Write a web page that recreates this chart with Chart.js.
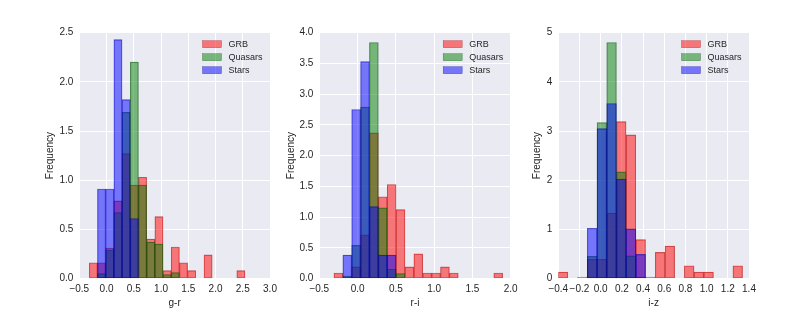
<!DOCTYPE html>
<html>
<head>
<meta charset="utf-8">
<script src="https://cdn.jsdelivr.net/npm/chart.js@4.4.1/dist/chart.umd.min.js"></script>
<style>
  body { margin: 0; background: #fff; }
  #wrap { position: relative; width: 789px; height: 329px; }
  canvas { position: absolute; left: 0; top: 0; }
</style>
</head>
<body>
<div id="wrap">
  <canvas id="grChart" width="789" height="329"></canvas>
  <canvas id="riChart" width="789" height="329"></canvas>
  <canvas id="izChart" width="789" height="329"></canvas>
</div>
<script>
'use strict'

const seriesNames = ['GRB', 'Quasars', 'Stars'];

// g-r panel, 19 bins
const grBinStart = -0.317;
const grBinWidth = 0.1504;
const grGRB     = [0.16, 0.16, 0.31, 0.79, 1.27, 0.95, 1.03, 0.40, 0.63, 0.08, 0.32, 0.16, 0.08, 0, 0.24, 0, 0, 0, 0.08];
const grQuasars = [0, 0.05, 0.29, 0.67, 1.69, 2.20, 0.95, 0.37, 0.35, 0.04, 0.06, 0, 0, 0, 0, 0, 0, 0, 0];
const grStars   = [0, 0.91, 0.91, 2.43, 1.82, 0.61, 0, 0, 0, 0, 0, 0, 0, 0, 0, 0, 0, 0, 0];
const grXTicks  = [-0.5, 0, 0.5, 1, 1.5, 2, 2.5, 3];
const grYTicks  = [0, 0.5, 1, 1.5, 2, 2.5];

// r-i panel, 19 bins
const riBinStart = -0.309;
const riBinWidth = 0.116;
const riGRB     = [0.09, 0, 0.19, 0.71, 2.37, 1.33, 1.53, 1.12, 0.19, 0.40, 0.09, 0.09, 0.19, 0.09, 0, 0, 0, 0, 0.09];
const riQuasars = [0, 0.04, 0.54, 2.79, 3.84, 1.15, 0.15, 0.08, 0, 0, 0, 0, 0, 0, 0, 0, 0, 0, 0];
const riStars   = [0, 0.38, 2.75, 3.53, 1.17, 0.38, 0.38, 0, 0, 0, 0, 0, 0, 0, 0, 0, 0, 0, 0];
const riXTicks  = [-0.5, 0, 0.5, 1, 1.5, 2];
const riYTicks  = [0, 0.5, 1, 1.5, 2, 2.5, 3, 3.5, 4];

// i-z panel, 19 bins
const izBinStart = -0.401;
const izBinWidth = 0.0916;
const izGRB     = [0.13, 0, 0, 0.39, 0.39, 1.33, 3.19, 2.92, 0.79, 0, 0.53, 0.66, 0, 0.26, 0.13, 0.13, 0, 0, 0.26];
const izQuasars = [0, 0, 0.03, 0.45, 3.17, 4.80, 2.17, 0.46, 0.03, 0.03, 0, 0, 0, 0, 0, 0, 0, 0, 0];
const izStars   = [0, 0, 0, 1.02, 3.05, 3.56, 2.02, 1.01, 0.49, 0, 0, 0, 0, 0, 0, 0, 0, 0, 0];
const izXTicks  = [-0.4, -0.2, 0, 0.2, 0.4, 0.6, 0.8, 1.0, 1.2, 1.4];
const izYTicks  = [0, 1, 2, 3, 4, 5];

const fillColors = ['rgba(255,0,0,0.5)', 'rgba(0,128,0,0.5)', 'rgba(0,0,255,0.5)'];
const edgeColors = ['rgba(150,0,0,0.55)', 'rgba(0,70,0,0.55)', 'rgba(0,0,150,0.55)'];
const textColor = '#262626';
const fontFamily = '"Liberation Sans", Arial, Helvetica, sans-serif';

const panelBackground = {
  id: 'panelBackground',
  beforeDraw(chart) {
    const {ctx, chartArea: a} = chart;
    ctx.save();
    ctx.fillStyle = '#EAEAF2';
    ctx.fillRect(a.left, a.top, a.right - a.left, a.bottom - a.top);
    ctx.restore();
  }
};

// legend box in the upper right corner of the plot
const boxLegend = {
  id: 'boxLegend',
  afterDatasetsDraw(chart) {
    const {ctx, chartArea: a} = chart;
    ctx.save();
    ctx.font = '9px ' + fontFamily;
    ctx.textBaseline = 'middle';
    ctx.textAlign = 'left';
    chart.data.datasets.forEach((ds, i) => {
      const cy = a.top + 11.5 + i * 13;
      ctx.fillStyle = ds.backgroundColor;
      ctx.fillRect(a.right - 67.5, cy - 3.5, 19, 7);
      ctx.strokeStyle = ds.borderColor;
      ctx.lineWidth = 0.5;
      ctx.strokeRect(a.right - 67.5, cy - 3.5, 19, 7);
      ctx.fillStyle = textColor;
      ctx.fillText(ds.label, a.right - 41.5, cy + 0.5);
    });
    ctx.restore();
  }
};

const fmt = (v, dec) => v.toFixed(dec).replace('-', '\u2212');

const makePanel = (canvasId, binStart, binWidth, series, xTicks, yTicks, xLabel, yDec, box) => {
  const datasets = series.map((vals, s) => ({
    label: seriesNames[s],
    data: vals.map((v, i) => ({x: binStart + binWidth * (i + 0.5), y: v})),
    backgroundColor: fillColors[s],
    borderColor: edgeColors[s],
    borderWidth: 0.5,
    borderSkipped: false,
    order: 3 - s,
    grouped: false,
    categoryPercentage: 1,
    barPercentage: 1
  }));

  return new Chart(document.getElementById(canvasId), {
    type: 'bar',
    data: {datasets: datasets},
    plugins: [panelBackground, boxLegend],
    options: {
      responsive: false,
      animation: false,
      events: [],
      layout: {padding: {left: box.axisLeft, right: 789 - box.right, top: box.top, bottom: 0}},
      plugins: {legend: {display: false}, tooltip: {enabled: false}},
      scales: {
        x: {
          type: 'linear',
          min: xTicks[0],
          max: xTicks[xTicks.length - 1],
          offset: false,
          afterBuildTicks: ax => { ax.ticks = xTicks.map(v => ({value: v})); },
          afterFit: ax => { ax.height = 329 - box.bottom; },
          grid: {color: '#ffffff', lineWidth: 1, drawTicks: false, offset: false},
          border: {display: false},
          ticks: {
            padding: 5, color: textColor, maxRotation: 0, autoSkip: false,
            font: {family: fontFamily, size: 10},
            callback: v => fmt(v, 1)
          },
          title: {
            display: true, text: xLabel, color: textColor,
            font: {family: fontFamily, size: 10},
            padding: {top: 0, bottom: 20}
          }
        },
        y: {
          min: 0,
          max: yTicks[yTicks.length - 1],
          afterBuildTicks: ax => { ax.ticks = yTicks.map(v => ({value: v})); },
          afterFit: ax => { ax.width = box.left - box.axisLeft; },
          grid: {color: '#ffffff', lineWidth: 1, drawTicks: false},
          border: {display: false},
          ticks: {
            padding: 6, color: textColor,
            font: {family: fontFamily, size: 10},
            callback: v => fmt(v, yDec)
          },
          title: {
            display: true, text: 'Frequency', color: textColor,
            font: {family: fontFamily, size: 10},
            padding: {top: 0, bottom: 0}
          }
        }
      }
    }
  });
};

makePanel('grChart', grBinStart, grBinWidth, [grGRB, grQuasars, grStars], grXTicks, grYTicks, 'g-r', 1,
  {axisLeft: 44.7, left: 79.3, right: 270, top: 32.7, bottom: 278.5});
makePanel('riChart', riBinStart, riBinWidth, [riGRB, riQuasars, riStars], riXTicks, riYTicks, 'r-i', 1,
  {axisLeft: 285.7, left: 319.3, right: 510.7, top: 32.7, bottom: 278.5});
makePanel('izChart', izBinStart, izBinWidth, [izGRB, izQuasars, izStars], izXTicks, izYTicks, 'i-z', 0,
  {axisLeft: 531.3, left: 558.3, right: 749, top: 32.7, bottom: 278.5});
</script>
</body>
</html>
